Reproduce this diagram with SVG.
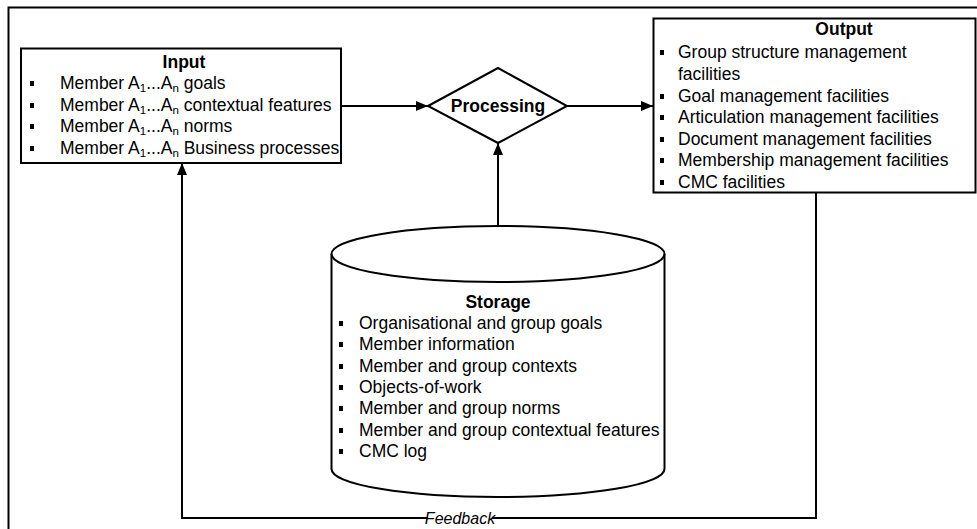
<svg xmlns="http://www.w3.org/2000/svg" width="977" height="529" viewBox="0 0 977 529">
<defs>
<style>
.box{fill:#fff;stroke:#000;stroke-width:2}
.t{font-family:"Liberation Sans",Arial,sans-serif;font-size:17.5px;fill:#000}
.h{font-family:"Liberation Sans",Arial,sans-serif;font-size:17.5px;font-weight:bold;fill:#000}
.fb{font-family:"Liberation Sans",Arial,sans-serif;font-size:16px;font-style:italic;fill:#000}
.ln{fill:none;stroke:#000;stroke-width:2}
.b{fill:#000}
</style>
<marker id="ah" viewBox="0 0 12 10" refX="12" refY="5" markerWidth="12" markerHeight="10" markerUnits="userSpaceOnUse" orient="auto">
<path d="M0,0 L12,5 L0,10 Z" fill="#000"/>
</marker>
</defs>
<rect width="977" height="529" fill="#fff"/>
<g id="frame">
<path class="ln" d="M8.5,529 V7.5 H977"/>
</g>
<g id="connectors">
<path class="ln" d="M341,106 H428" marker-end="url(#ah)"/>
<path class="ln" d="M567,106 H653" marker-end="url(#ah)"/>
<path class="ln" d="M498,226 V143" marker-end="url(#ah)"/>
<path class="ln" d="M816,193 V518 H182 V163" marker-end="url(#ah)"/>
<rect x="428" y="508" width="64" height="18" fill="#fff"/>
<text class="fb" x="460" y="524" text-anchor="middle">Feedback</text>
</g>
<g id="input">
<rect class="box" x="21" y="48.5" width="320" height="114.5"/>
<text class="h" x="184" y="68" text-anchor="middle">Input</text>
<rect class="b" x="30" y="81" width="4" height="5"/>
<rect class="b" x="30" y="103" width="4" height="5"/>
<rect class="b" x="30" y="124" width="4" height="5"/>
<rect class="b" x="30" y="146" width="4" height="5"/>
<text class="t" x="60" y="89">Member A<tspan font-size="11.5" dy="3">1</tspan><tspan dy="-3">...A</tspan><tspan font-size="11.5" dy="3">n</tspan><tspan dy="-3"> goals</tspan></text>
<text class="t" x="60" y="111">Member A<tspan font-size="11.5" dy="3">1</tspan><tspan dy="-3">...A</tspan><tspan font-size="11.5" dy="3">n</tspan><tspan dy="-3"> contextual features</tspan></text>
<text class="t" x="60" y="132">Member A<tspan font-size="11.5" dy="3">1</tspan><tspan dy="-3">...A</tspan><tspan font-size="11.5" dy="3">n</tspan><tspan dy="-3"> norms</tspan></text>
<text class="t" x="60" y="154">Member A<tspan font-size="11.5" dy="3">1</tspan><tspan dy="-3">...A</tspan><tspan font-size="11.5" dy="3">n</tspan><tspan dy="-3"> Business processes</tspan></text>
</g>
<g id="processing">
<path class="box" d="M428,106 L498,68 L567,106 L498,143 Z"/>
<text class="h" x="498" y="112" text-anchor="middle">Processing</text>
</g>
<g id="output">
<rect class="box" x="653.5" y="18.5" width="322" height="174"/>
<text class="h" x="844" y="35" text-anchor="middle">Output</text>
<rect class="b" x="660" y="50" width="4" height="5"/>
<rect class="b" x="660" y="94" width="4" height="5"/>
<rect class="b" x="660" y="115" width="4" height="5"/>
<rect class="b" x="660" y="137" width="4" height="5"/>
<rect class="b" x="660" y="158" width="4" height="5"/>
<rect class="b" x="660" y="180" width="4" height="5"/>
<text class="t" x="678" y="58">Group structure management</text>
<text class="t" x="678" y="80">facilities</text>
<text class="t" x="678" y="102">Goal management facilities</text>
<text class="t" x="678" y="123">Articulation management facilities</text>
<text class="t" x="678" y="145">Document management facilities</text>
<text class="t" x="678" y="166">Membership management facilities</text>
<text class="t" x="678" y="188">CMC facilities</text>
</g>
<g id="storage">
<path class="box" d="M331.5,254 A166.5,28 0 0 1 664.5,254 V469 A166.5,28 0 0 1 331.5,469 Z"/>
<path class="ln" d="M331.5,254 A166.5,28 0 0 0 664.5,254"/>
<text class="h" x="498" y="308" text-anchor="middle">Storage</text>
<rect class="b" x="339" y="321" width="4" height="5"/>
<rect class="b" x="339" y="342" width="4" height="5"/>
<rect class="b" x="339" y="364" width="4" height="5"/>
<rect class="b" x="339" y="385" width="4" height="5"/>
<rect class="b" x="339" y="406" width="4" height="5"/>
<rect class="b" x="339" y="428" width="4" height="5"/>
<rect class="b" x="339" y="449" width="4" height="5"/>
<text class="t" x="359" y="329">Organisational and group goals</text>
<text class="t" x="359" y="350">Member information</text>
<text class="t" x="359" y="372">Member and group contexts</text>
<text class="t" x="359" y="393">Objects-of-work</text>
<text class="t" x="359" y="414">Member and group norms</text>
<text class="t" x="359" y="436">Member and group contextual features</text>
<text class="t" x="359" y="457">CMC log</text>
</g>
</svg>
